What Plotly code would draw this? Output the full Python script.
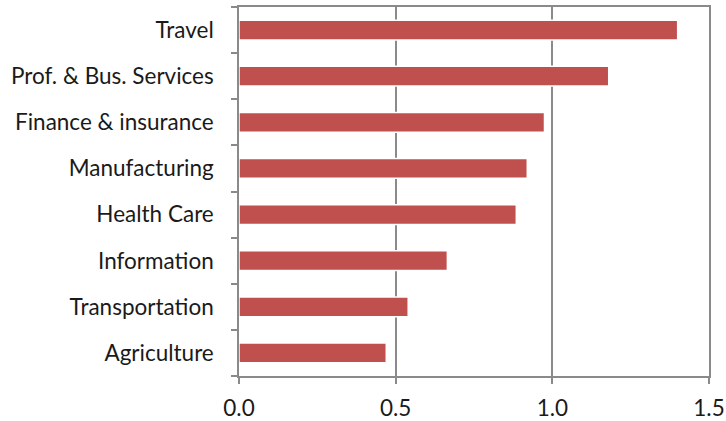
import plotly.graph_objects as go

categories = ["Agriculture", "Transportation", "Information", "Health Care",
              "Manufacturing", "Finance & insurance", "Prof. & Bus. Services", "Travel"]
values = [0.47, 0.54, 0.665, 0.885, 0.92, 0.975, 1.18, 1.40]
x_ticks = [0, 0.5, 1.0, 1.5]
x_tick_labels = ["0.0", "0.5", "1.0", "1.5"]

fig = go.Figure(go.Bar(
    x=values, y=categories, orientation="h",
    marker=dict(color="#C0504D", line=dict(color="white", width=1.5)),
    width=0.43,
))

fig.update_layout(
    width=726, height=421,
    margin=dict(l=239, r=17, t=7, b=45, autoexpand=False),
    plot_bgcolor="white", paper_bgcolor="white",
    font=dict(family="Lato", size=22.5, color="#1a1a1a"),
    showlegend=False,
)
fig.update_xaxes(
    range=[0, 1.5], tickvals=x_ticks, ticktext=x_tick_labels,
    showgrid=True, gridcolor="#8a8a8a", gridwidth=1.5,
    showline=True, linecolor="#8a8a8a", linewidth=1.5, mirror=True,
    ticks="outside", ticklen=6, tickcolor="#8a8a8a", tickwidth=1.5,
    zeroline=False, fixedrange=True, automargin=False, ticklabelstandoff=5,
)
fig.update_yaxes(
    showgrid=False, tickson="boundaries",
    showline=True, linecolor="#8a8a8a", linewidth=1.5, mirror=True,
    ticks="outside", ticklen=6, tickcolor="#8a8a8a", tickwidth=1.5,
    fixedrange=True, automargin=False, ticklabelstandoff=19,
)

fig.write_html("out.html", config={"displayModeBar": False},
               post_script="document.body.style.margin='0';document.body.style.overflow='hidden';")
